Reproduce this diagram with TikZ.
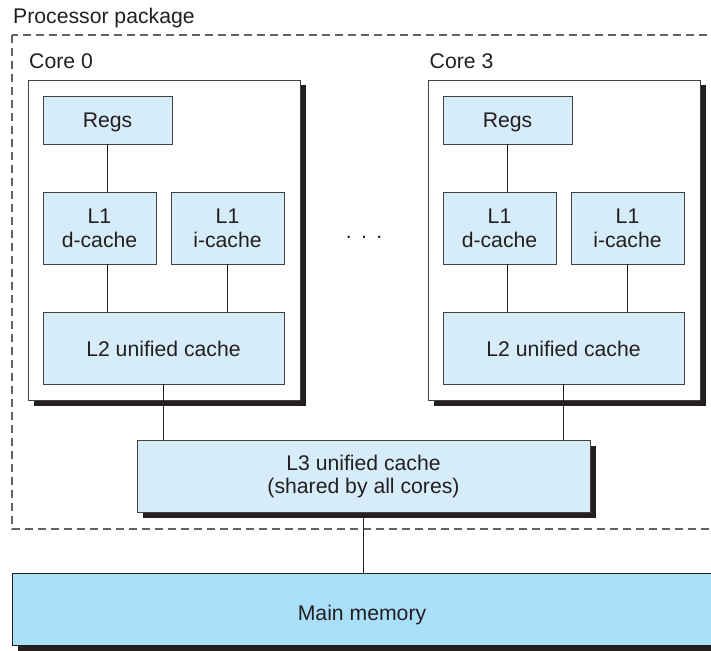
\documentclass[tikz,border=0pt]{standalone}
\usepackage{fontspec}
\setmainfont{Liberation Sans}
\usepackage{xcolor}
\usetikzlibrary{positioning, shadows}
\definecolor{cachefill}{HTML}{D6EDF9}
\definecolor{memfill}{HTML}{A9DFF9}
\definecolor{ink}{HTML}{231F20}
\tikzset{
  bayang/.style={drop shadow={shadow xshift=5.5pt, shadow yshift=-5.5pt,
    fill=ink, opacity=1}},
  cachebox/.style={rectangle, draw=ink!85, line width=0.9pt, fill=cachefill,
    align=center, inner sep=0pt},
  corebox/.style={rectangle, draw=ink!85, line width=0.9pt, fill=white, bayang,
    minimum width=272pt, minimum height=320pt},
  membox/.style={rectangle, draw=ink, line width=0.9pt, fill=memfill, bayang,
    inner sep=0pt, text height=23pt, text depth=0pt,
    minimum width=700pt, minimum height=72pt},
  regsbox/.style={cachebox, text depth=0pt, minimum width=129pt, minimum height=48pt},
  l1box/.style={cachebox, minimum width=113pt, minimum height=72pt},
  l2box/.style={cachebox, text height=17.5pt, text depth=0pt,
    minimum width=241pt, minimum height=72pt},
  lbl/.style={anchor=base west, inner sep=0pt},
  link/.style={draw=ink, line width=1.1pt},
  pkgline/.style={draw=ink!70, line width=1.1pt, dash pattern=on 8pt off 5pt}
}

\begin{document}
\begin{tikzpicture}[x=1pt, y=-1pt, font=\fontsize{21.2}{23.8}\selectfont, text=ink]
  \useasboundingbox (0,0) rectangle (711,650);
  \clip (0,0) rectangle (711,650);

  % processor package
  \draw[pkgline] (12,35) rectangle (730,529);
  \node[lbl] (pkglbl) at (13,23.5) {Processor package};

  % core 0
  \node[corebox] (core0) at (164,240) {};
  \node[lbl] (core0lbl) at (29,68.5) {Core 0};
  \node[regsbox] (regs0) at (107.5,120) {Regs};
  \node[l1box] (l1d0) at (99.5,228) {L1\\d-cache};
  \node[l1box] (l1i0) at (227.5,228) {L1\\i-cache};
  \node[l2box] (l2c0) at (163.5,348) {L2 unified cache};
  \draw[link] (regs0.south) -- (regs0.south |- l1d0.north);
  \draw[link] (regs0.south |- l1d0.south) -- (regs0.south |- l2c0.north);
  \draw[link] (l1i0.south) -- (l1i0.south |- l2c0.north);

  % core 3
  \node[corebox] (core3) at (564,240) {};
  \node[lbl] (core3lbl) at (429.5,68.5) {Core 3};
  \node[regsbox] (regs3) at (507.5,120) {Regs};
  \node[l1box] (l1d3) at (499.5,228) {L1\\d-cache};
  \node[l1box] (l1i3) at (627.5,228) {L1\\i-cache};
  \node[l2box] (l2c3) at (563.5,348) {L2 unified cache};
  \draw[link] (regs3.south) -- (regs3.south |- l1d3.north);
  \draw[link] (regs3.south |- l1d3.south) -- (regs3.south |- l2c3.north);
  \draw[link] (l1i3.south) -- (l1i3.south |- l2c3.north);

  \node (dots) at (364,237) {.\hspace{9.3pt}.\hspace{9.3pt}.};

  % shared cache and memory
  \node[cachebox, bayang, minimum width=453pt, minimum height=72pt] (l3) at (363.5,476.5)
    {L3 unified cache\\(shared by all cores)};
  \node[membox] (mem) at (362,609) {Main memory};
  \draw[link] (l2c0.south) -- (l2c0.south |- l3.north);
  \draw[link] (l2c3.south) -- (l2c3.south |- l3.north);
  \draw[link] (l3.south) -- (l3.south |- mem.north);
\end{tikzpicture}
\end{document}
